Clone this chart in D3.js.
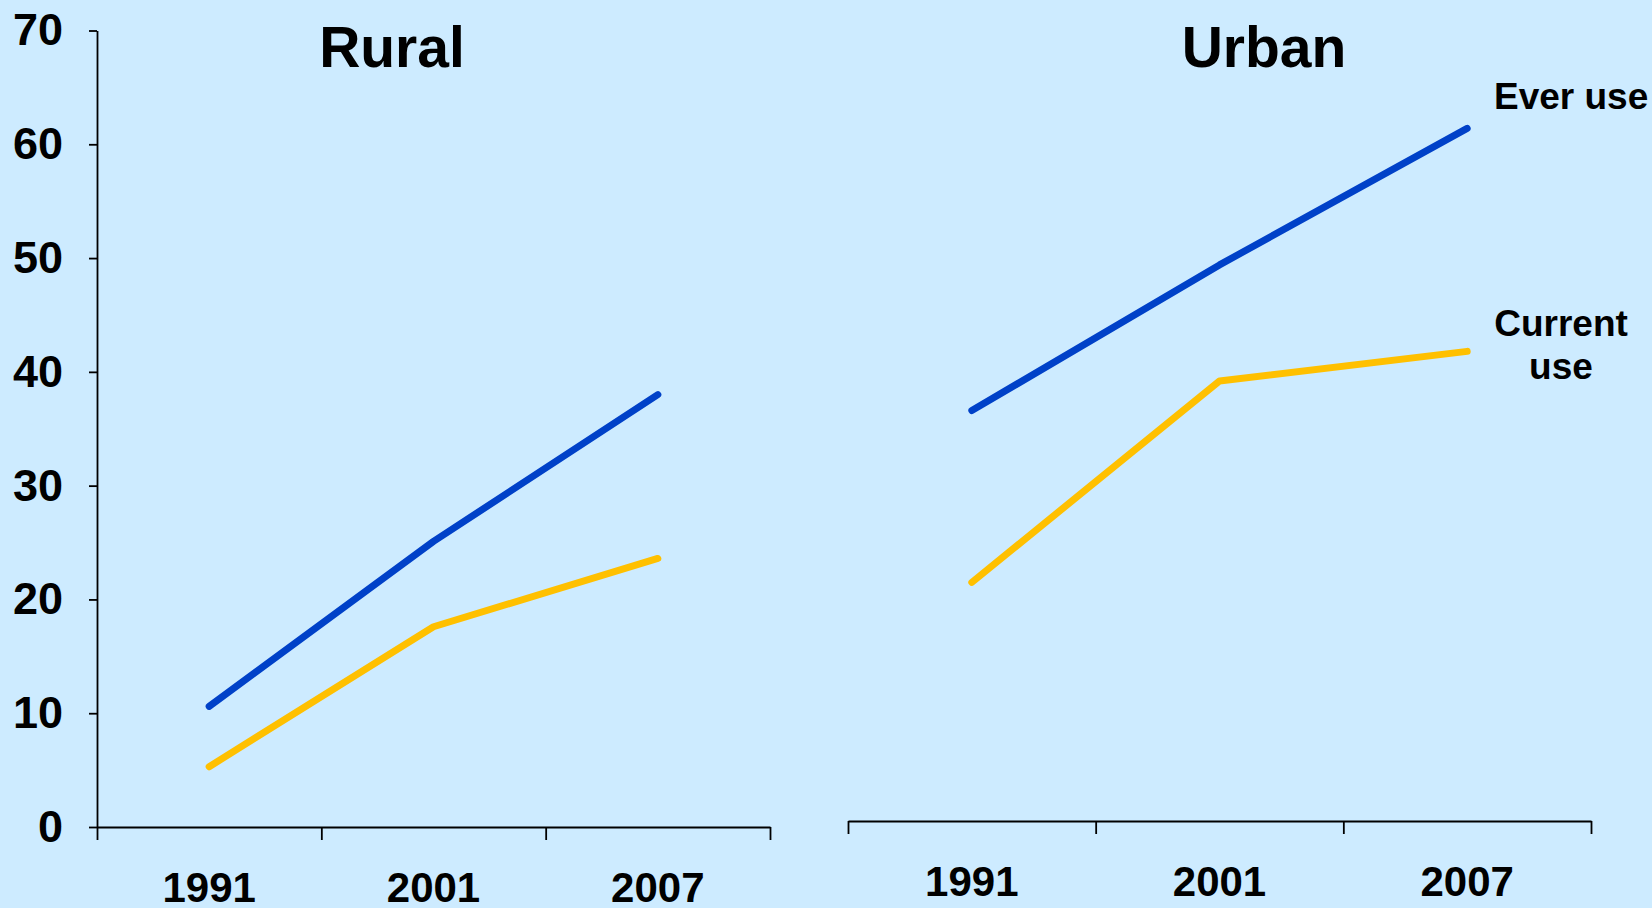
<!DOCTYPE html>
<html>
<head>
<meta charset="utf-8">
<script src="https://cdn.jsdelivr.net/npm/d3@7/dist/d3.min.js"></script>
<style>
  body { margin: 0; background: #cdebff; }
  svg { display: block; font-family: "Liberation Sans", Arial, sans-serif; font-weight: bold; }
</style>
</head>
<body>
<svg id="chart"></svg>
<script>
// data
const years = ['1991', '2001', '2007'];
const ruralEver = [10.6, 25.1, 38.0];
const ruralCurrent = [5.3, 17.6, 23.6];
const urbanEver = [36.6, 49.4, 61.4];
const urbanCurrent = [21.5, 39.2, 41.8];
const yTicks = [0, 10, 20, 30, 40, 50, 60, 70];
const panelTitles = ['Rural', 'Urban'];

const W = 1652, H = 908;
const blue = '#0041c8', gold = '#ffc000';

const svg = d3.select('#chart').attr('width', W).attr('height', H);

// shared value scale
const y = d3.scaleLinear().domain([0, 70]).range([827, 30.5]);

const panels = [
  { title: panelTitles[0], ever: ruralEver, current: ruralCurrent, x0: 97, x1: 770, axisY: 827, titleX: 392, yAxis: true },
  { title: panelTitles[1], ever: urbanEver, current: urbanCurrent, x0: 848, x1: 1591, axisY: 821, titleX: 1264, yAxis: false }
];

panels.forEach(p => {
  const xBand = d3.scaleBand().domain(years).range([p.x0, p.x1]);
  const xPos = d => xBand(d) + xBand.bandwidth() / 2;
  const edges = d3.scaleLinear().domain([0, years.length]).range([p.x0, p.x1]);

  // tick marks at the band edges
  const edgeAxis = svg.append('g')
    .attr('transform', `translate(0,${p.axisY})`)
    .call(d3.axisBottom(edges).tickValues(d3.range(years.length + 1)).tickFormat('').tickSize(13).tickSizeOuter(0));
  edgeAxis.selectAll('path, line').attr('stroke', '#000').attr('stroke-width', 1.8);

  // year labels at band centres
  const labelAxis = svg.append('g')
    .attr('transform', `translate(0,${p.axisY})`)
    .call(d3.axisBottom(xBand).tickSize(0).tickPadding(45));
  labelAxis.select('.domain').remove();
  labelAxis.selectAll('text')
    .attr('font-size', 42).attr('font-family', '"Liberation Sans", Arial, sans-serif')
    .attr('font-weight', 'bold').attr('fill', '#000');

  if (p.yAxis) {
    const ya = svg.append('g')
      .attr('transform', `translate(${p.x0},0)`)
      .call(d3.axisLeft(y).tickValues(yTicks).tickSize(8).tickSizeOuter(0).tickPadding(26));
    ya.selectAll('path, line').attr('stroke', '#000').attr('stroke-width', 1.8);
    ya.selectAll('text')
      .attr('font-size', 45).attr('font-family', '"Liberation Sans", Arial, sans-serif')
      .attr('font-weight', 'bold').attr('fill', '#000');
  }

  const line = d3.line().x((d, i) => xPos(years[i])).y(d => y(d));

  svg.append('path').datum(p.current)
    .attr('d', line).attr('fill', 'none').attr('stroke', gold)
    .attr('stroke-width', 7).attr('stroke-linecap', 'round').attr('stroke-linejoin', 'round');
  svg.append('path').datum(p.ever)
    .attr('d', line).attr('fill', 'none').attr('stroke', blue)
    .attr('stroke-width', 7).attr('stroke-linecap', 'round').attr('stroke-linejoin', 'round');

  svg.append('text')
    .attr('x', p.titleX).attr('y', 67)
    .attr('text-anchor', 'middle').attr('font-size', 57)
    .text(p.title);
});

// series labels
svg.append('text').attr('x', 1494).attr('y', 109).attr('font-size', 37).text('Ever use');
const cur = svg.append('text').attr('x', 1561).attr('y', 336).attr('text-anchor', 'middle').attr('font-size', 37);
cur.append('tspan').attr('x', 1561).text('Current');
cur.append('tspan').attr('x', 1561).attr('dy', 43).text('use');
</script>
</body>
</html>
